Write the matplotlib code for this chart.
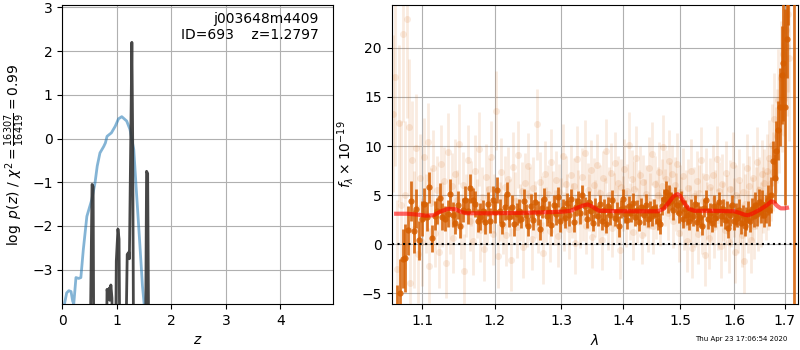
"""Redshift-fit summary: p(z) on the left, G141 spectrum + best-fit model on the right."""

import numpy as np
import matplotlib

matplotlib.use("Agg")
import matplotlib.pyplot as plt
from matplotlib.ticker import NullLocator, NullFormatter

# ---- p(z) panel -------------------------------------------------------------
# smooth log p(z) (light blue)
z_smooth = [0.04, 0.08, 0.12, 0.16, 0.19, 0.21, 0.25, 0.30, 0.34, 0.385, 0.45,
            0.54, 0.60, 0.64, 0.69, 0.76, 0.79, 0.82, 0.90, 0.97, 1.03, 1.09,
            1.18, 1.24, 1.31, 1.36, 1.42, 1.47, 1.50]
logp_smooth = [-3.78, -3.53, -3.48, -3.50, -3.72, -3.78, -3.18, -3.20, -3.18,
               -2.54, -1.78, -1.40, -1.01, -0.63, -0.33, -0.18, -0.10, 0.05,
               0.13, 0.28, 0.45, 0.50, 0.40, 0.21, -0.25, -1.24, -2.39, -3.38,
               -3.78]

# spiky log p(z) (dark)
z_spiky = [0.50, 0.545, 0.565, 0.58, 0.80, 0.82, 0.84, 0.86, 0.87, 0.89, 0.91,
           0.93, 0.97, 0.99, 1.02, 1.04, 1.06, 1.15, 1.19, 1.22, 1.23, 1.26,
           1.275, 1.29, 1.31, 1.52, 1.545, 1.565, 1.59]
logp_spiky = [-6.0, -1.05, -1.10, -6.0, -6.0, -3.45, -3.60, -3.42, -3.70, -3.35,
              -3.65, -6.0, -6.0, -2.80, -2.07, -2.30, -6.0, -6.0, -2.65, -2.60,
              -2.75, 0.50, 2.20, 0.00, -6.0, -6.0, -0.75, -0.80, -6.0]

field_name = "j003648m4409"
obj_id = 693
z_best = 1.2797
chi2_num, chi2_den = 16307, 16419

# ---- spectrum panel ---------------------------------------------------------
# binned spectrum (dark points), pixel grid start / step in micron
dark_start, dark_step = 1.0675, 0.0035
dark_flux = [
    -7.0, -5.0, -1.5, -1.4, 1.4, 4.4, 1.3, 3.6, 0.4, 2.6,
    4.1, 2.8, 5.8, 0.6, 2.9, 3.4, 4.7, 2.8, 2.6, 3.1,
    5.1, 3.0, 2.2, 4.0, 1.9, 3.5, 4.5, 3.4, 5.7, 4.5,
    4.1, 2.4, 2.8, 3.4, 2.3, 4.1, 2.4, 4.5, 3.3, 5.5,
    3.4, 2.1, 3.8, 5.1, 2.8, 3.8, 2.1, 3.1, 3.4, 2.6,
    4.4, 3.0, 1.8, 3.9, 2.5, 4.3, 3.2, 1.5, 3.7, 4.6,
    2.9, 3.3, 2.0, 4.0, 3.1, 4.8, 2.4, 3.6, 2.7, 4.2,
    3.0, 4.6, 2.3, 3.8, 4.4, 3.2, 5.0, 3.9, 2.6, 4.3,
    3.4, 2.2, 3.7, 2.9, 4.1, 2.4, 3.5, 2.1, 3.9, 3.0,
    4.5, 2.7, 3.3, 1.8, 3.6, 4.6, 3.1, 2.5, 3.9, 3.2,
    4.2, 2.8, 3.5, 2.3, 3.8, 3.0, 4.0, 2.6, 3.4, 2.9,
    3.7, 3.1, 2.4, 2.1, 3.9, 4.6, 5.3, 4.2, 5.0, 4.4,
    3.5, 4.8, 4.0, 3.2, 4.3, 2.6, 3.6, 3.0, 2.4, 3.5,
    2.9, 4.1, 2.3, 3.3, 2.8, 1.9, 3.7, 4.5, 2.6, 3.2,
    2.2, 3.9, 2.7, 3.4, 4.3, 2.9, 3.6, 2.5, 3.3, 1.6,
    3.0, 4.0, 2.4, 3.1, 2.7, 3.5, 2.2, 3.0, 1.9, 2.6,
    3.3, 2.4, 3.6, 2.9, 4.0, 3.1, 4.3, 3.4, 4.1, 3.0,
    3.6, 4.5, 3.5, 5.0, 8.5, 6.7, 9.5, 11.6, 14.0, 17.2,
    18.5, 14.0, 20.9, 27.0, np.nan, np.nan, 30.0,
]
dark_err = [
    2.8, 3.5, 3.0, 3.5, 2.5, 2.0, 2.2, 2.0, 2.0, 1.8,
    1.6, 1.5, 1.6, 1.4, 1.5, 1.3, 1.5, 1.4, 1.3, 1.4,
    1.5, 1.3, 1.2, 1.4, 1.3, 1.2, 1.4, 1.3, 1.5, 1.2,
    1.3, 1.2, 1.4, 1.1, 1.3, 1.2, 1.3, 1.4, 1.1, 1.3,
    1.2, 1.1, 1.3, 1.2, 1.1, 1.2, 1.3, 1.1, 1.2, 1.0,
    1.2, 1.1, 1.0, 1.2, 1.1, 1.0, 1.2, 1.1, 1.0, 1.1,
    1.0, 1.1, 1.2, 1.0, 1.1, 1.0, 1.2, 1.0, 1.1, 1.0,
    1.1, 1.0, 1.1, 0.9, 1.0, 1.1, 1.0, 0.9, 1.0, 1.1,
    1.0, 0.9, 1.0, 1.1, 0.9, 1.0, 1.1, 1.0, 0.9, 1.0,
    1.0, 0.9, 1.0, 1.1, 0.9, 1.0, 0.9, 1.0, 1.0, 0.9,
    1.0, 0.9, 1.0, 1.0, 0.9, 1.0, 1.1, 0.9, 1.0, 1.0,
    0.9, 1.0, 1.0, 1.1, 0.9, 1.0, 1.1, 1.0, 1.0, 0.9,
    1.0, 1.0, 0.9, 1.0, 1.1, 1.0, 0.9, 1.0, 1.0, 1.1,
    1.0, 0.9, 1.0, 1.0, 1.1, 1.0, 0.9, 1.0, 1.1, 1.0,
    1.0, 1.1, 1.0, 0.9, 1.0, 1.1, 1.0, 1.0, 1.1, 1.0,
    1.1, 1.0, 1.0, 1.1, 1.0, 1.1, 1.2, 1.0, 1.1, 1.2,
    1.1, 1.2, 1.1, 1.2, 1.3, 1.2, 1.3, 1.2, 1.4, 1.3,
    1.4, 1.5, 1.6, 1.8, 2.0, 2.5, 3.0, 3.0, 4.0, 5.0,
    6.0, 10.0, 4.0, 4.7, np.nan, np.nan, 40.0,
]

# individual-beam pixels (faint points)
faint_start, faint_step = 1.062, 0.0025
faint_flux = [
    13.3, 17.0, -2.5, 12.3, 4.0, 21.4, 5.0, 22.9, 11.9, -4.0, 8.6, 1.5, 9.8, -1.0, 6.7, 0.2, 8.9, 3.1, 10.4, -2.2,
    4.2, 7.8, 1.1, 5.5, -0.8, 8.2, 3.0, 6.4, -1.9, 9.4, 2.2, 5.9, 0.6, 7.1, 4.5, 10.2, 1.8, 6.0, -2.7, 3.9,
    8.6, 2.4, 5.2, 0.3, 7.5, 3.6, 9.7, 1.4, 4.8, -0.5, 6.8, 2.9, 5.6, 8.9, 1.0, 4.1, 13.6, -1.2, 3.3, 7.4,
    2.0, 5.8, 0.9, 6.6, 3.7, -1.6, 7.9, 4.4, 1.7, 9.1, 3.2, 5.4, -0.3, 6.2, 2.6, 8.0, 4.9, 0.5, 5.7, 3.5,
    12.2, 2.1, 6.3, 4.0, -0.9, 7.2, 3.0, 5.1, 1.3, 8.4, 4.6, 2.7, 6.5, 0.8, 5.3, 3.9, 9.0, 2.3, 6.1, 4.3,
    1.5, 7.0, 3.4, 5.9, 0.1, 8.7, 4.8, 2.5, 6.8, 3.1, 9.3, 1.9, 5.5, 4.2, 7.6, 0.7, 6.0, 3.6, 8.1, 2.8,
    5.2, 0.4, 6.7, 3.8, 9.5, 2.2, 5.0, 7.3, 1.6, 4.5, 8.3, 3.0, 6.2, -0.6, 5.8, 4.1, 7.7, 2.6, 5.4, 10.1,
    3.3, 6.6, 1.2, 5.6, 8.8, 2.9, 4.7, 7.0, 0.9, 6.3, 3.7, 5.1, 2.0, 7.8, 4.4, 9.2, 1.8, 6.1, 3.5, 5.0,
    7.4, 2.7, 5.9, 9.9, 4.8, 6.6, 3.2, 8.5, 5.5, 7.1, 2.4, 6.0, 4.3, 8.2, 1.1, 5.3, 3.8, 6.9, 2.2, 4.6,
    0.3, 5.7, 3.1, 7.5, -0.4, 4.9, 2.6, 6.4, 1.0, 5.2, 8.6, 2.0, 4.4, -1.1, 6.8, 3.4, 0.6, 5.8, 2.9, 7.0,
    1.7, 4.6, 8.7, 2.5, 5.4, -0.2, 6.1, 3.3, 1.4, 7.3, 4.0, 0.2, 5.6, 2.8, 8.1, 3.7, -0.8, 5.0, 2.1, 6.5,
    3.2, 0.9, 5.3, -1.7, 4.1, 7.8, 2.3, 5.9, 0.4, 3.6, 6.7, 1.8, 4.7, 8.4, 2.6, 5.5, 3.0, 7.1, 4.5, 6.2,
    3.9, 7.5, 5.0, 8.8, 6.2, 10.1, 7.4, 12.8, 9.6, 11.0, 14.7, 12.3, 16.9, 15.0, 19.4, 17.2, 21.8, 20.1, 23.5, 19.0,
]
faint_err = [
    8.0, 9.0, 7.0, 8.0, 8.5, 9.0, 7.5, 10.0, 7.0, 6.5, 6.0, 6.0, 5.5, 5.0, 4.5, 4.5, 4.0, 4.0, 4.0, 3.8,
    3.6, 3.8, 3.4, 3.5, 3.7, 3.9, 3.3, 3.5, 3.6, 4.0, 3.2, 3.4, 3.5, 3.6, 3.1, 4.1, 3.3, 3.4, 3.7, 3.2,
    3.5, 3.1, 3.3, 3.4, 3.6, 3.0, 3.8, 3.2, 3.1, 3.3, 3.4, 3.0, 3.2, 3.6, 3.1, 3.0, 4.0, 3.3, 3.0, 3.4,
    3.0, 3.2, 3.1, 3.3, 2.9, 3.2, 3.5, 3.0, 3.1, 3.4, 2.9, 3.0, 3.2, 3.1, 2.9, 3.3, 3.0, 3.1, 3.2, 2.9,
    3.6, 3.0, 3.1, 2.9, 3.2, 3.3, 2.8, 3.0, 3.1, 3.3, 2.9, 2.8, 3.0, 3.1, 2.9, 2.8, 3.2, 3.0, 2.9, 2.8,
    3.0, 3.1, 2.8, 2.9, 3.1, 3.3, 2.8, 2.9, 3.0, 2.8, 3.4, 2.9, 2.8, 2.9, 3.0, 3.1, 2.8, 2.9, 3.1, 2.8,
    2.9, 3.0, 2.8, 2.9, 3.3, 2.8, 2.9, 3.0, 2.9, 2.8, 3.1, 2.9, 2.8, 3.0, 2.9, 2.8, 3.0, 2.9, 2.8, 3.4,
    2.9, 3.0, 2.8, 2.9, 3.2, 2.8, 2.9, 3.0, 2.9, 2.8, 2.9, 3.0, 2.8, 3.1, 2.9, 3.2, 2.8, 2.9, 3.0, 2.9,
    3.0, 2.9, 2.8, 3.3, 2.9, 3.0, 2.8, 3.1, 2.9, 3.0, 2.8, 2.9, 3.0, 3.1, 2.9, 2.8, 3.0, 2.9, 2.8, 3.0,
    3.1, 3.0, 2.9, 3.2, 3.1, 3.0, 2.9, 3.1, 3.0, 2.9, 3.3, 3.0, 2.9, 3.2, 3.0, 2.9, 3.1, 3.0, 2.9, 3.1,
    3.1, 3.0, 3.3, 3.1, 3.0, 3.2, 3.1, 3.0, 3.1, 3.2, 3.0, 3.1, 3.0, 3.1, 3.3, 3.0, 3.2, 3.1, 3.0, 3.2,
    3.1, 3.2, 3.0, 3.3, 3.1, 3.4, 3.2, 3.1, 3.3, 3.2, 3.4, 3.3, 3.2, 3.5, 3.3, 3.4, 3.3, 3.5, 3.4, 3.5,
    3.5, 3.7, 3.6, 3.9, 3.8, 4.2, 4.0, 4.6, 4.4, 4.8, 5.2, 5.0, 5.8, 5.6, 6.5, 6.2, 7.2, 7.0, 8.0, 8.5,
]

# best-fit template (red)
lam_model = [1.066, 1.080, 1.095, 1.105, 1.115, 1.125, 1.135, 1.145, 1.152,
             1.160, 1.200, 1.250, 1.300, 1.315, 1.325, 1.335, 1.342, 1.350,
             1.360, 1.400, 1.460, 1.470, 1.480, 1.488, 1.495, 1.500, 1.507,
             1.515, 1.525, 1.550, 1.600, 1.610, 1.620, 1.627, 1.635, 1.650,
             1.665, 1.673, 1.678, 1.685, 1.692, 1.700, 1.705]
flux_model = [3.10, 3.10, 3.00, 2.90, 2.95, 3.35, 3.60, 3.55, 3.30, 3.15, 3.15,
              3.20, 3.30, 3.40, 3.70, 3.95, 4.05, 3.80, 3.40, 3.35, 3.35, 3.60,
              4.30, 4.90, 5.10, 4.90, 4.20, 3.60, 3.40, 3.40, 3.35, 3.20, 3.00,
              2.95, 3.10, 3.50, 4.00, 4.35, 4.30, 3.90, 3.65, 3.65, 3.70]

lam_ticks = [1.1, 1.2, 1.3, 1.4, 1.5, 1.6, 1.7]
timestamp = "Thu Apr 23 17:06:54 2020"

G141 = (0.835, 0.369, 0.0)


def main():
    fig = plt.figure(figsize=(8, 3.5), dpi=100)

    # left: p(z)
    ax = fig.add_axes([0.0779, 0.1314, 0.3388, 0.8551])
    ax.plot(z_smooth, logp_smooth, color="tab:blue", alpha=0.55, lw=2)
    ax.plot(z_spiky, logp_spiky, color="0.2", alpha=0.9, lw=2)
    ax.set_xlim(0, 4.97)
    ax.set_ylim(-3.785, 3.06)
    ax.set_xticks([0, 1, 2, 3, 4])
    ax.set_yticks([-3, -2, -1, 0, 1, 2, 3])
    ax.grid()
    ax.set_xlabel(r"$z$")
    ax.set_ylabel(r"$\log\ p(z)$ / $\chi^2=\frac{%d}{%d}=%.2f$"
                  % (chi2_num, chi2_den, chi2_num / chi2_den))
    ax.text(0.945, 0.975, f"{field_name}\nID={obj_id}    z={z_best:.4f}",
            transform=ax.transAxes, ha="right", va="top", fontsize=10)

    # right: spectrum
    ax = fig.add_axes([0.4896, 0.1314, 0.5083, 0.8551])
    lam_faint = faint_start + faint_step * np.arange(len(faint_flux))
    lam_dark = dark_start + dark_step * np.arange(len(dark_flux))
    ax.errorbar(lam_faint, faint_flux, yerr=faint_err, fmt="o", color=G141,
                alpha=0.12, ms=5, elinewidth=2, mew=0, zorder=2)
    ax.errorbar(lam_dark, dark_flux, yerr=dark_err, fmt="o", color=G141,
                alpha=0.85, ms=4.5, elinewidth=2, mew=0, zorder=3)
    ax.plot(lam_model, flux_model, color="r", alpha=0.6, lw=3, zorder=4)
    ax.axhline(0, color="k", ls=":", lw=1.5, zorder=5)

    ax.set_xscale("log")
    ax.set_xlim(1.0603, 1.7284)
    ax.set_xticks(lam_ticks)
    ax.set_xticklabels([f"{t:.1f}" for t in lam_ticks])
    ax.xaxis.set_minor_locator(NullLocator())
    ax.xaxis.set_minor_formatter(NullFormatter())
    ax.set_ylim(-6.1, 24.4)
    ax.set_yticks([-5, 0, 5, 10, 15, 20])
    ax.grid()
    ax.set_axisbelow(True)
    ax.set_xlabel(r"$\lambda$")
    ax.set_ylabel(r"$f_\lambda\times10^{-19}$")

    fig.text(0.984, 0.03, timestamp, ha="right", va="center", fontsize=5)
    fig.savefig("out.png", dpi=100)


if __name__ == "__main__":
    main()
